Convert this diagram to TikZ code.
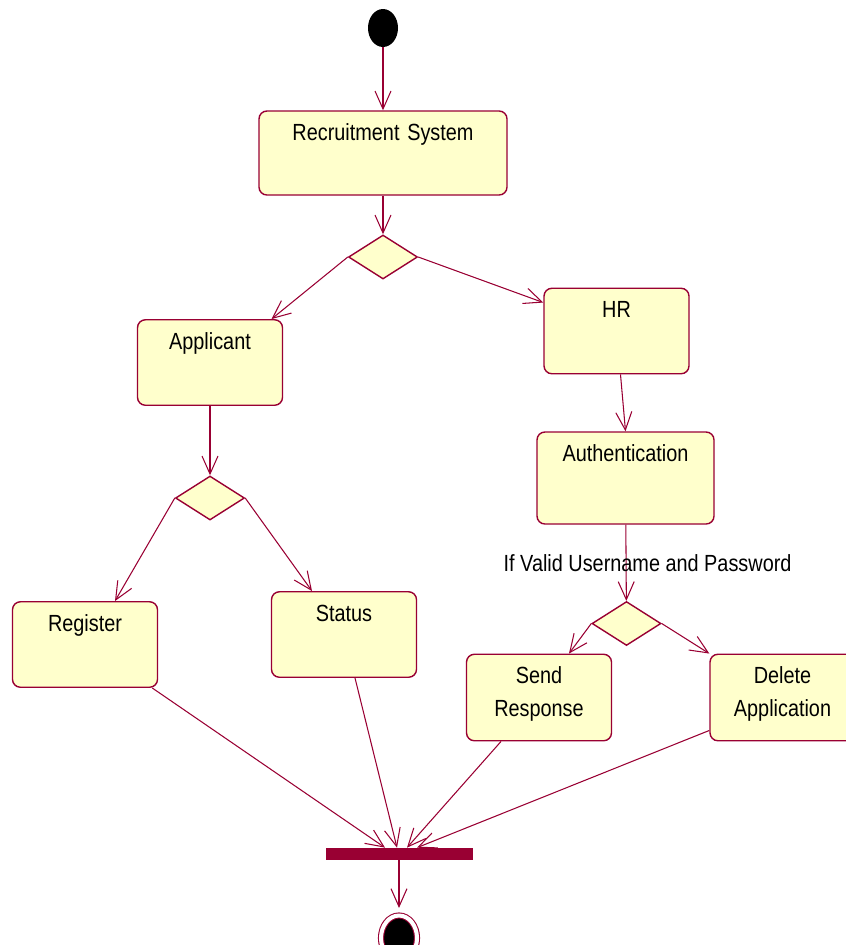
\documentclass[tikz,border=0pt]{standalone}
\usepackage{fontspec}
\setmainfont{Liberation Sans}[FakeStretch=0.85]
\usepackage{xcolor}
\usepackage{tikz}
\usetikzlibrary{arrows.meta,positioning,shapes.geometric,calc}

\definecolor{umlred}{HTML}{990033}
\definecolor{umlfill}{HTML}{FFFFCC}
\newcommand{\actfont}{\fontsize{13.3}{18.4}\selectfont}

\begin{document}
\begin{tikzpicture}[
        x=0.2mm, y=-0.2mm,
        >={Straight Barb[length=3.6mm, width=3.2mm]},
        initial/.style={ellipse, fill=black, minimum width=6mm, minimum height=7.6mm, inner sep=0pt},
        final/.style={ellipse, fill=black, draw=umlred, line width=0.6pt, double=white, double distance=2.3pt, minimum width=7.2mm, minimum height=9mm, inner sep=0pt},
        activity/.style={rectangle, rounded corners=4.5pt, draw=umlred, fill=umlfill, line width=0.8pt, inner xsep=0pt, inner ysep=0pt, align=center, text width=29mm, text height=5.9mm, text depth=11.2mm, font=\actfont},
        decision/.style={diamond, draw=umlred, fill=umlfill, line width=0.8pt, minimum width=13.8mm, minimum height=8.8mm, inner sep=0pt},
        fork/.style={rectangle, fill=umlred, minimum width=29.4mm, minimum height=2.4mm, inner sep=0pt},
        guard/.style={font=\actfont, inner sep=0pt},
        arrow/.style={->, draw=umlred, line width=0.6pt}
    ]
        \useasboundingbox (0,0) rectangle (846,945);

        \node[initial] (start) at (383,28) {};
        \node[activity, text width=49.6mm, text depth=10.9mm] (recruit) at (383,153) {Recruitment System};
        \node[decision] (split) at (383,257) {};
        \node[activity] (applicant) at (210,362.5) {Applicant};
        \node[activity] (hr) at (616.5,331) {HR};
        \node[activity, text width=35.4mm, text depth=12.5mm] (auth) at (625.5,478) {Authentication};
        \node[decision] (appchoice) at (210,498) {};
        \node[activity] (register) at (85,644.5) {Register};
        \node[activity] (status) at (344,634.5) {Status};
        \node[decision] (hrchoice) at (626.5,623.5) {};
        \node[activity, text depth=11.4mm] (respond) at (539,697.5) {Send\\Response};
        \node[activity, text depth=11.4mm] (delete) at (782.5,697.5) {Delete\\Application};
        \node[fork] (join) at (399,854) {};
        \node[final] (finish) at (399,938) {};

        \draw[arrow] (start) -- (recruit);
        \draw[arrow] (recruit) -- (split);
        \draw[arrow] (split.west) -- ($(applicant.north)+(61.5,0)$);
        \draw[arrow] (split.east) -- ($(hr.north west)+(0,15)$);
        \draw[arrow] ($(hr.south)+(4,0)$) -- (auth.north);
        \draw[arrow] (auth) -- node[guard, xshift=4.3mm] {If Valid Username and Password} (hrchoice);
        \draw[arrow] (applicant) -- (appchoice);
        \draw[arrow] (appchoice.west) -- ($(register.north)+(30,0)$);
        \draw[arrow] (appchoice.east) -- ($(status.north)+(-32,0)$);
        \draw[arrow] (hrchoice.west) -- ($(respond.north)+(30,0)$);
        \draw[arrow] (hrchoice.east) -- (delete.north west);

        \draw[arrow] ($(register.south east)+(-6,0)$) -- ($(join.north)+(-14,0)$);
        \draw[arrow] ($(status.south)+(11,0)$) -- ($(join.north)+(-2,0)$);
        \draw[arrow] ($(respond.south)+(-38,0)$) -- ($(join.north)+(8,0)$);
        \draw[arrow] ($(delete.south west)+(0,-11)$) -- ($(join.north)+(18,0)$);
        \draw[arrow, shorten >=4pt] (join) -- (finish);
    \end{tikzpicture}
\end{document}
